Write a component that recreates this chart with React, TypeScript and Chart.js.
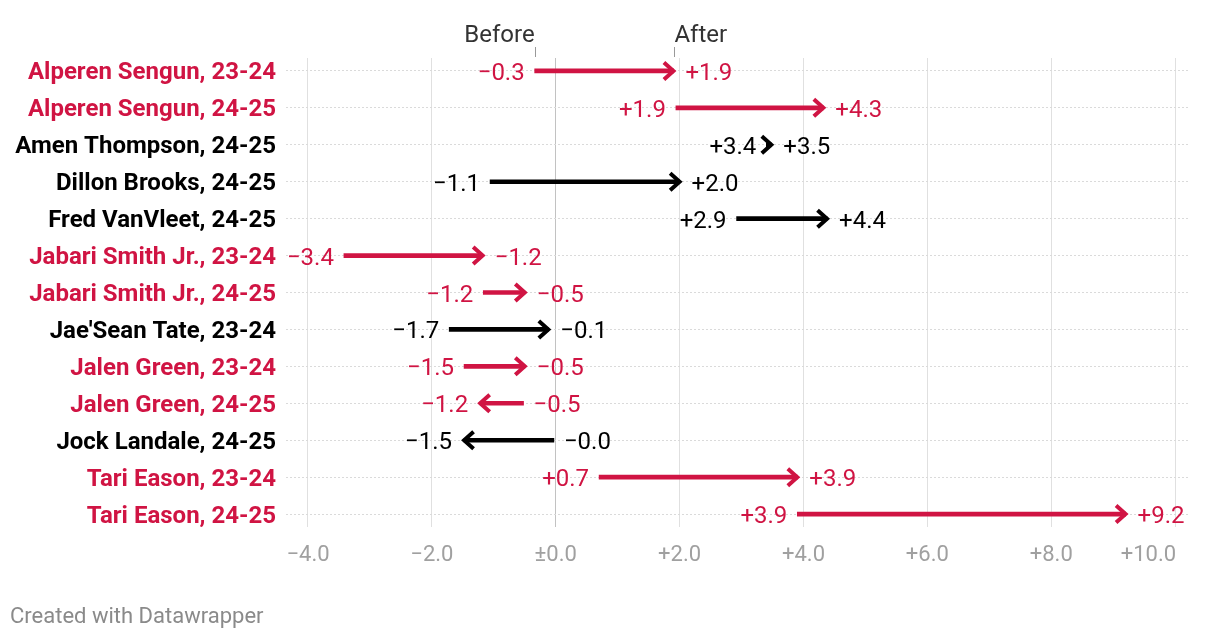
import React, { useEffect, useRef } from 'react';
import { Chart, registerables } from 'chart.js';

Chart.register(...registerables);

const players: string[] = [
  'Alperen Sengun, 23-24',
  'Alperen Sengun, 24-25',
  'Amen Thompson, 24-25',
  'Dillon Brooks, 24-25',
  'Fred VanVleet, 24-25',
  'Jabari Smith Jr., 23-24',
  'Jabari Smith Jr., 24-25',
  "Jae'Sean Tate, 23-24",
  'Jalen Green, 23-24',
  'Jalen Green, 24-25',
  'Jock Landale, 24-25',
  'Tari Eason, 23-24',
  'Tari Eason, 24-25',
];

const beforeValues: number[] = [-0.34, 1.94, 3.4, -1.06, 2.92, -3.42, -1.17, -1.72, -1.48, -0.52, -0.03, 0.7, 3.9];
const afterValues: number[] = [1.9, 4.32, 3.48, 2.0, 4.38, -1.18, -0.5, -0.12, -0.5, -1.22, -1.48, 3.9, 9.2];
const highlighted: boolean[] = [true, true, false, false, false, true, true, false, true, true, false, true, true];

const xTicks: number[] = [-4, -2, 0, 2, 4, 6, 8, 10];
const headerLabels: string[] = ['Before', 'After'];
const footerText = 'Created with Datawrapper';

const RED = '#d01443';
const BLACK = '#000000';
const FONT = 'Roboto, "Noto Sans", sans-serif';

function fmtValue(v: number): string {
  const s = (Math.round(Math.abs(v) * 10) / 10).toFixed(1);
  return (v < 0 ? '\u2212' : '+') + s;
}

function fmtTick(v: number): string {
  if (v === 0) return '\u00b10.0';
  return fmtValue(v);
}

const arrowPlugin = {
  id: 'arrowPlugin',
  afterDatasetsDraw(chart: any) {
    const ctx: CanvasRenderingContext2D = chart.ctx;
    const xs = chart.scales.x;
    const ys = chart.scales.y;
    const area = chart.chartArea;
    ctx.save();

    players.forEach((name, i) => {
      const y = ys.getPixelForValue(i);
      const x0 = xs.getPixelForValue(beforeValues[i]);
      const x1 = xs.getPixelForValue(afterValues[i]);
      const dir = afterValues[i] >= beforeValues[i] ? 1 : -1;
      const color = highlighted[i] ? RED : BLACK;

      // arrow head
      ctx.strokeStyle = color;
      ctx.lineWidth = 4;
      ctx.lineJoin = 'miter';
      ctx.lineCap = 'butt';
      ctx.beginPath();
      ctx.moveTo(x1 - dir * 9.5, y - 8.5);
      ctx.lineTo(x1, y);
      ctx.lineTo(x1 - dir * 9.5, y + 8.5);
      ctx.stroke();

      // value labels
      ctx.font = `24px ${FONT}`;
      ctx.fillStyle = color;
      ctx.textBaseline = 'alphabetic';
      ctx.textAlign = dir > 0 ? 'right' : 'left';
      ctx.fillText(fmtValue(beforeValues[i]), x0 - dir * 10, y + 9);
      ctx.textAlign = dir > 0 ? 'left' : 'right';
      ctx.fillText(fmtValue(afterValues[i]), x1 + dir * 12, y + 9);

      // category label
      ctx.font = `bold 24px ${FONT}`;
      ctx.textAlign = 'right';
      ctx.fillText(name, area.left - 10, y + 8.5);
    });

    // x tick labels
    ctx.font = `22px ${FONT}`;
    ctx.fillStyle = '#a0a0a0';
    xTicks.forEach((v, k) => {
      const px = xs.getPixelForValue(v);
      const last = k === xTicks.length - 1;
      ctx.textAlign = last ? 'right' : 'center';
      ctx.fillText(fmtTick(v), last ? px + 1 : px, 561);
    });

    // Before / After header with markers
    const bx = xs.getPixelForValue(beforeValues[0]);
    const ax = xs.getPixelForValue(afterValues[0]);
    ctx.font = `24px ${FONT}`;
    ctx.fillStyle = '#333333';
    ctx.textAlign = 'right';
    ctx.fillText(headerLabels[0], bx, 42);
    ctx.textAlign = 'left';
    ctx.fillText(headerLabels[1], ax + 1, 42);
    ctx.strokeStyle = '#999999';
    ctx.lineWidth = 1;
    ctx.beginPath();
    ctx.moveTo(Math.round(bx) + 0.5, 47);
    ctx.lineTo(Math.round(bx) + 0.5, 57);
    ctx.moveTo(Math.round(ax) + 1.5, 47);
    ctx.lineTo(Math.round(ax) + 1.5, 57);
    ctx.stroke();

    // footer
    ctx.font = `22px ${FONT}`;
    ctx.fillStyle = '#8a8a8a';
    ctx.textAlign = 'left';
    ctx.fillText(footerText, 10, 623);

    ctx.restore();
  },
};

export default function App() {
  const canvasRef = useRef<HTMLCanvasElement | null>(null);

  useEffect(() => {
    if (!canvasRef.current) return;
    const chart = new Chart(canvasRef.current, {
      type: 'bar',
      data: {
        datasets: [
          {
            data: players.map((_, i) => ({ y: i, x: [beforeValues[i], afterValues[i]] })) as any,
            backgroundColor: highlighted.map((h) => (h ? RED : BLACK)),
            barThickness: 4,
            borderWidth: 0,
            borderSkipped: false,
          },
        ],
      },
      options: {
        indexAxis: 'y',
        animation: false,
        responsive: true,
        maintainAspectRatio: false,
        events: [],
        layout: { padding: { left: 286, right: 30, top: 58, bottom: 115 } },
        plugins: { legend: { display: false }, tooltip: { enabled: false } },
        scales: {
          x: {
            type: 'linear',
            min: -4.355,
            max: 10.24,
            afterBuildTicks: (s: any) => {
              s.ticks = xTicks.map((v) => ({ value: v }));
            },
            ticks: { display: false },
            grid: {
              color: (c: any) => (c.tick && c.tick.value === 0 ? '#c2c2c2' : '#e0e0e0'),
              lineWidth: 1,
              drawTicks: false,
            },
            border: { display: false },
          },
          y: {
            type: 'linear',
            reverse: true,
            offset: false,
            min: -0.35,
            max: 12.35,
            afterBuildTicks: (s: any) => {
              s.ticks = players.map((_, i) => ({ value: i }));
            },
            ticks: { display: false },
            grid: { color: '#dadada', lineWidth: 1, drawTicks: false, offset: false },
            border: { display: false, dash: [2, 2] },
          },
        },
      },
      plugins: [arrowPlugin],
    } as any);
    return () => chart.destroy();
  }, []);

  return (
    <div style={{ position: 'fixed', left: 0, top: 0, width: 1220, height: 642, background: '#fff' }}>
      <canvas ref={canvasRef} />
    </div>
  );
}
